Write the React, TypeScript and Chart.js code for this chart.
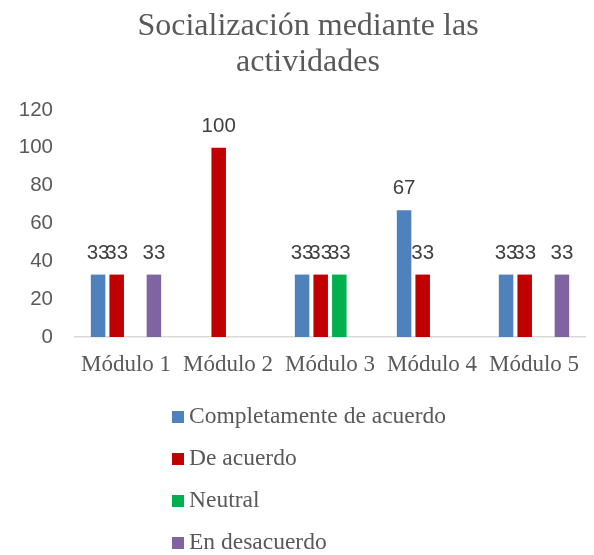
import React, { useEffect, useRef } from "react";
import { Chart, registerables } from "chart.js";

Chart.register(...registerables);

const titleLines = ["Socialización mediante las", "actividades"];
const categories = ["Módulo 1", "Módulo 2", "Módulo 3", "Módulo 4", "Módulo 5"];
const seriesNames = ["Completamente de acuerdo", "De acuerdo", "Neutral", "En desacuerdo"];
const completamente = [33, 0, 33, 67, 33];
const deAcuerdo = [33, 100, 33, 33, 33];
const neutral = [0, 0, 33, 0, 0];
const desacuerdo = [33, 0, 0, 0, 33];
const seriesColors = ["#4F81BD", "#C00000", "#00B050", "#8064A2"];
const yMax = 120;
const yStep = 20;

const SERIF = "'Liberation Serif', 'Times New Roman', serif";
const SANS = "'Liberation Sans', Arial, sans-serif";

const titlePlugin = {
  id: "customTitle",
  afterDraw(chart: any) {
    const ctx = chart.ctx;
    ctx.save();
    ctx.font = `32px ${SERIF}`;
    ctx.fillStyle = "#595959";
    ctx.textAlign = "center";
    ctx.textBaseline = "alphabetic";
    titleLines.forEach((line, i) => {
      ctx.fillText(line, 308, 35 + i * 35.5);
    });
    ctx.restore();
  },
};

const dataLabelPlugin = {
  id: "dataLabels",
  afterDatasetsDraw(chart: any) {
    const ctx = chart.ctx;
    ctx.save();
    ctx.font = `20.5px ${SANS}`;
    ctx.fillStyle = "#404040";
    ctx.textAlign = "center";
    ctx.textBaseline = "alphabetic";
    chart.data.datasets.forEach((ds: any, i: number) => {
      const meta = chart.getDatasetMeta(i);
      meta.data.forEach((bar: any, j: number) => {
        const v = ds.data[j];
        if (!v) return;
        ctx.fillText(String(v), bar.x, bar.y - 16);
      });
    });
    ctx.restore();
  },
};

const verticalLegendPlugin = {
  id: "verticalLegend",
  afterDraw(chart: any) {
    const ctx = chart.ctx;
    ctx.save();
    ctx.font = `23.5px ${SERIF}`;
    ctx.textBaseline = "alphabetic";
    ctx.textAlign = "left";
    const x0 = 172;
    const y0 = 411;
    const gap = 42;
    chart.data.datasets.forEach((ds: any, i: number) => {
      const y = y0 + i * gap;
      ctx.fillStyle = ds.backgroundColor;
      ctx.fillRect(x0, y, 12, 12);
      ctx.fillStyle = "#595959";
      ctx.fillText(ds.label, x0 + 17, y + 12);
    });
    ctx.restore();
  },
};

export default function App() {
  const ref = useRef<HTMLCanvasElement>(null);
  useEffect(() => {
    if (!ref.current) return;
    const values = [completamente, deAcuerdo, neutral, desacuerdo];
    const chart = new Chart(ref.current, {
      type: "bar",
      data: {
        labels: categories,
        datasets: seriesNames.map((name, i) => ({
          label: name,
          data: values[i],
          backgroundColor: seriesColors[i],
          categoryPercentage: 0.73,
          barPercentage: 0.78,
        })),
      },
      options: {
        animation: false,
        responsive: false,
        layout: { padding: { left: 0, right: 9, top: 110, bottom: 173 } },
        plugins: {
          legend: { display: false },
          tooltip: { enabled: false },
          title: { display: false },
        },
        scales: {
          x: {
            grid: { display: false },
            border: { display: true, color: "#D9D9D9", width: 1.5 },
            ticks: {
              color: "#595959",
              font: { family: SERIF, size: 23 },
              padding: 6,
              maxRotation: 0,
              autoSkip: false,
            },
            afterFit(scale: any) {
              scale.height = 45;
            },
          },
          y: {
            min: 0,
            max: yMax,
            grid: { display: false },
            border: { display: false },
            ticks: {
              stepSize: yStep,
              color: "#595959",
              font: { family: SANS, size: 20.5 },
              padding: 14,
            },
            afterFit(scale: any) {
              scale.width = 75;
            },
          },
        },
      },
      plugins: [dataLabelPlugin, verticalLegendPlugin, titlePlugin],
    });
    return () => chart.destroy();
  }, []);
  return (
    <div style={{ position: "fixed", left: 0, top: 0, width: 594, height: 555, background: "#fff" }}>
      <canvas ref={ref} width={594} height={555} />
    </div>
  );
}
